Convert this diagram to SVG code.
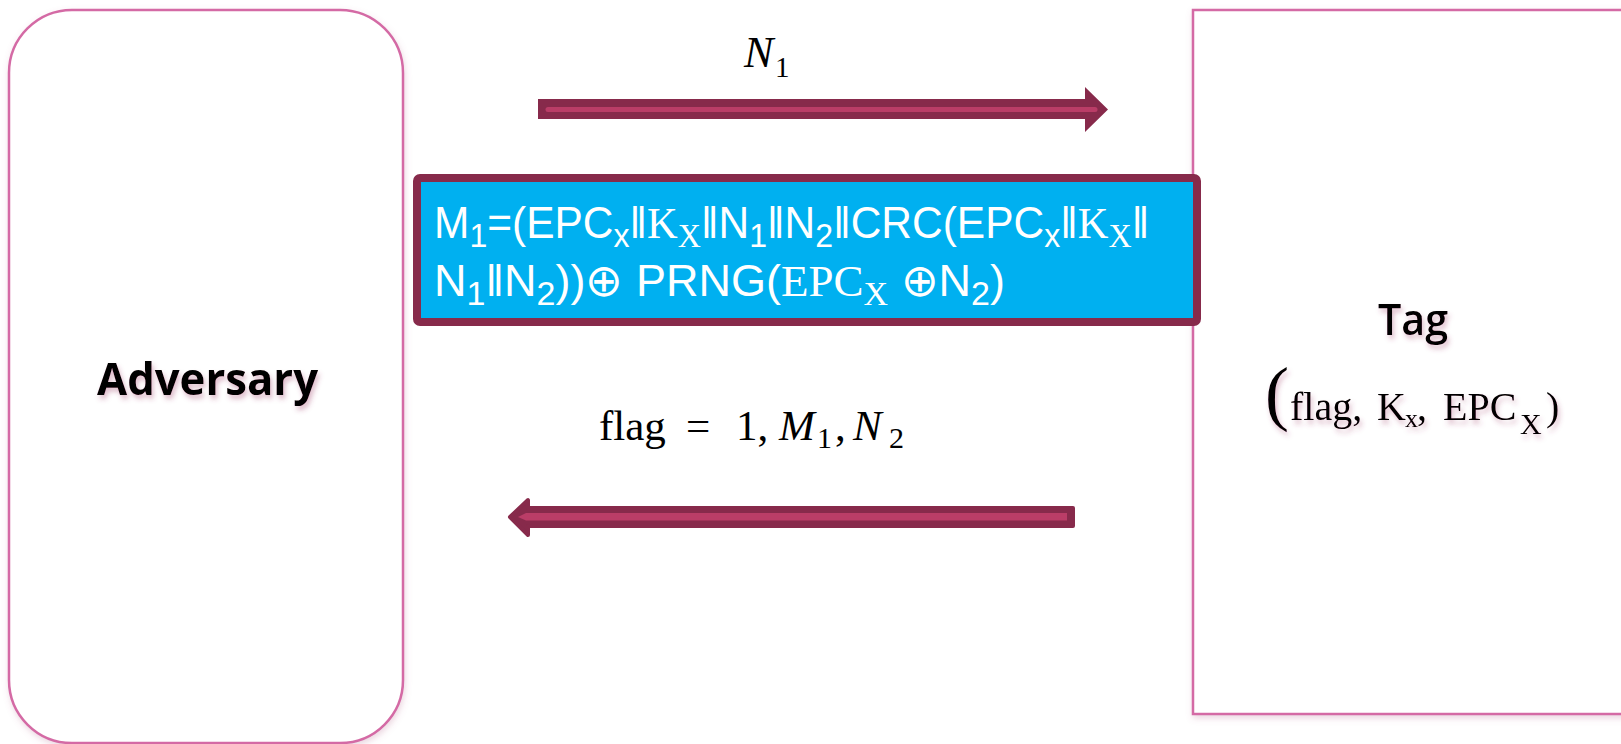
<svg xmlns="http://www.w3.org/2000/svg" width="1621" height="744" viewBox="0 0 1621 744">
<defs>
<filter id="ts" x="-20%" y="-40%" width="140%" height="190%">
<feDropShadow dx="2" dy="4" stdDeviation="2.5" flood-color="#9E3D68" flood-opacity="0.35"/>
</filter>
<filter id="bs" x="-5%" y="-5%" width="110%" height="110%">
<feDropShadow dx="1" dy="3" stdDeviation="3" flood-color="#B05A85" flood-opacity="0.25"/>
</filter>
<style>
.box{fill:#ffffff;stroke:#D46BA5;stroke-width:2.5}
.bt{font-family:"Liberation Sans",Arial,sans-serif;font-size:45px;fill:#ffffff}
.bt .sub{font-size:34px}
.bt .serif{font-family:"Liberation Serif",serif}
.math{font-family:"Liberation Serif",serif;font-size:43px;fill:#000}
.it{font-style:italic}
.msub{font-size:30px}
.lbl{font-family:"Open Sans","Liberation Sans",sans-serif;fill:#000}
.tser{font-family:"Liberation Serif",serif;fill:#000}
.dark{fill:#872A4B}
.pink{fill:#BA3D67}
</style>
</defs>

<g id="adversary">
<rect class="box" x="9" y="10" width="394" height="733" rx="63" ry="63" filter="url(#bs)"/>
<text class="lbl" x="97" y="395" font-size="45" font-weight="700" textLength="221" lengthAdjust="spacingAndGlyphs" filter="url(#ts)">Adversary</text>
</g>

<g id="tag">
<rect class="box" x="1193" y="10" width="440" height="704" filter="url(#bs)"/>
<text class="lbl" x="1378" y="335" font-size="44" font-weight="600" textLength="70" lengthAdjust="spacingAndGlyphs" filter="url(#ts)">Tag</text>
<g filter="url(#ts)">
<text class="tser" x="1265" y="417" style="font-size:72px">(</text>
<text class="tser" y="420" style="font-size:40px"><tspan x="1290">flag,</tspan><tspan x="1377">K</tspan><tspan x="1405" dy="7" style="font-size:26px">x</tspan><tspan x="1417" dy="-7">,</tspan><tspan x="1443">EPC</tspan><tspan x="1520" dy="14" style="font-size:30px">X</tspan><tspan x="1546" dy="-14">)</tspan></text>
</g>
</g>

<g id="message">
<rect x="417" y="178" width="780" height="144" rx="3" fill="#00B0F0" stroke="#872A4B" stroke-width="8"/>
<text class="bt" x="0" y="0" transform="translate(434,238) scale(0.944,1)">M<tspan class="sub" dy="9">1</tspan><tspan dy="-9">=(EPC</tspan><tspan class="sub" dy="9">x</tspan><tspan dy="-9">‖</tspan><tspan class="serif">K</tspan><tspan class="serif sub" dy="9">X</tspan><tspan dy="-9">‖N</tspan><tspan class="sub" dy="9">1</tspan><tspan dy="-9">‖N</tspan><tspan class="sub" dy="9">2</tspan><tspan dy="-9">‖CRC(EPC</tspan><tspan class="sub" dy="9">x</tspan><tspan dy="-9">‖</tspan><tspan class="serif">K</tspan><tspan class="serif sub" dy="9">X</tspan><tspan dy="-9">‖</tspan></text>
<text class="bt" x="434" y="296">N<tspan class="sub" dy="9">1</tspan><tspan dy="-9">‖N</tspan><tspan class="sub" dy="9">2</tspan><tspan dy="-9">))⊕ PRNG(</tspan><tspan class="serif">EPC</tspan><tspan class="serif sub" dy="9">X</tspan><tspan dy="-9"> ⊕N</tspan><tspan class="sub" dy="9">2</tspan><tspan dy="-9">)</tspan></text>
</g>

<g id="connectors">
<polygon class="dark" points="538,99 1085,99 1085,87 1108,109.5 1085,132 1085,119 538,119"/>
<line x1="548" y1="109.5" x2="1095" y2="109.5" stroke="#BA3D67" stroke-width="5" stroke-linecap="round"/>
<path class="dark" d="M510,517 L528,500 L528,508 L1073,508 L1073,526 L528,526 L528,535 Z" stroke="#872A4B" stroke-width="4" stroke-linejoin="round"/>
<polygon class="pink" points="518,517 526,513 1067,513 1067,520.5 526,520.5"/>
</g>

<g id="labels">
<text class="math" y="67"><tspan x="744" class="it" font-size="44">N</tspan><tspan x="775" dy="10" font-size="29">1</tspan></text>
<text class="math" y="440"><tspan x="599">flag</tspan><tspan x="686">=</tspan><tspan x="736">1,</tspan><tspan x="779" class="it">M</tspan><tspan x="817" class="msub" dy="8">1</tspan><tspan x="835" dy="-8">,</tspan><tspan x="853" class="it">N</tspan><tspan x="889" class="msub" dy="8">2</tspan></text>
</g>
</svg>
